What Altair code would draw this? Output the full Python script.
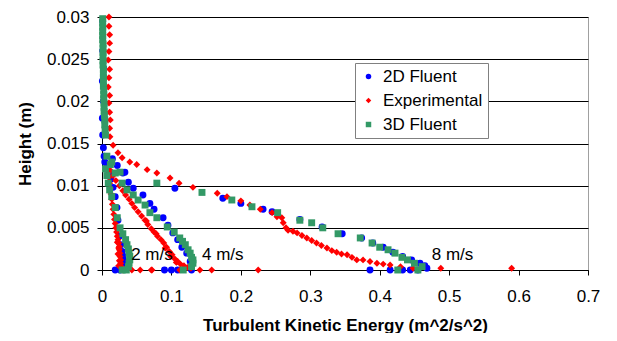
import altair as alt
import pandas as pd

# ---- 2D Fluent (blue circles) ----
fl2d_x = [
    # 2 m/s
    0.019, 0.026, 0.030, 0.031, 0.031, 0.030, 0.029, 0.027, 0.025, 0.023, 0.0216, 0.019, 0.016, 0.013, 0.010, 0.007,
    # 4 m/s
    0.090, 0.100, 0.109, 0.129, 0.127, 0.122, 0.115, 0.109, 0.102, 0.095, 0.088, 0.075, 0.069, 0.059, 0.045, 0.038, 0.030, 0.022, 0.015,
    # 8 m/s
    0.386, 0.415, 0.433, 0.444, 0.455, 0.468, 0.465, 0.458, 0.446, 0.433, 0.419, 0.405, 0.390, 0.374, 0.346, 0.317,
    0.285, 0.245, 0.232, 0.200, 0.174, 0.105, 0.033,
    # upper region
    0.001, 0.0005, 0.001, 0.002, 0.0005, 0.001, 0.002, 0.003, 0.002, 0.004,
]
fl2d_y = [
    0.0, 0.0, 0.0004, 0.0008, 0.0012, 0.0017, 0.0022, 0.0030, 0.0040, 0.0059, 0.0074, 0.0087, 0.0098, 0.0108, 0.0116, 0.0124,
    0.0, 0.0, 0.0, 0.0, 0.0010, 0.0020, 0.0027, 0.0036, 0.0044, 0.0053, 0.0062, 0.0072, 0.0079, 0.0089, 0.0097, 0.0104, 0.0115, 0.0124, 0.0132,
    0.0, 0.0, 0.0, 0.0, 0.0, 0.0002, 0.0005, 0.0008, 0.0012, 0.0016, 0.0021, 0.0027, 0.0032, 0.0038, 0.0043, 0.0051,
    0.0060, 0.0069, 0.0072, 0.0079, 0.0085, 0.0097, 0.0116,
    0.0295, 0.0224, 0.0260, 0.0200, 0.0180, 0.0160, 0.0145, 0.0135, 0.0240, 0.0128,
]

# ---- Experimental (red diamonds) ----
exp_x = [
    # upper column
    0.010, 0.010, 0.011, 0.011, 0.010, 0.009, 0.011, 0.010, 0.009, 0.011, 0.010, 0.011, 0.012, 0.011, 0.0115,
    # 2 m/s
    0.009, 0.010, 0.011, 0.012, 0.013, 0.014, 0.015, 0.016, 0.017, 0.018, 0.019, 0.020, 0.021, 0.022, 0.023, 0.024,
    0.025, 0.025, 0.026, 0.026, 0.027, 0.027, 0.028, 0.030, 0.043, 0.055, 0.071,
    0.022, 0.024, 0.023, 0.025, 0.024,
    # 4 m/s
    0.012, 0.016, 0.020, 0.025, 0.030, 0.034, 0.039, 0.043, 0.047, 0.052, 0.057, 0.062, 0.066, 0.071, 0.075, 0.080,
    0.085, 0.089, 0.093, 0.097, 0.101, 0.105, 0.109, 0.113, 0.118, 0.123, 0.128, 0.072, 0.112, 0.141, 0.158, 0.225,
    0.064, 0.078, 0.091, 0.099, 0.107,
    # 8 m/s
    0.016, 0.023, 0.029, 0.040, 0.050, 0.065, 0.079, 0.098, 0.111, 0.131, 0.166, 0.180, 0.200, 0.213, 0.228, 0.245,
    0.252, 0.259, 0.261, 0.265, 0.268, 0.275, 0.281, 0.288, 0.295, 0.302, 0.309, 0.316, 0.324, 0.331, 0.338, 0.345,
    0.353, 0.360, 0.367, 0.376, 0.386, 0.396, 0.405, 0.415, 0.430, 0.448, 0.488, 0.590,
]
exp_y = [
    0.0300, 0.0289, 0.0279, 0.0269, 0.0259, 0.0249, 0.0238, 0.0228, 0.0217, 0.0207, 0.0198, 0.0187, 0.0178, 0.0168, 0.0158,
    0.0118, 0.0110, 0.0103, 0.0097, 0.0090, 0.0084, 0.0078, 0.0072, 0.0066, 0.0060, 0.0055, 0.0050, 0.0045, 0.0040, 0.0036, 0.0032,
    0.0028, 0.0024, 0.0020, 0.0016, 0.0012, 0.0008, 0.0004, 0.0, 0.0, 0.0, 0.0,
    0.0033, 0.0026, 0.0019, 0.0011, 0.0005,
    0.0118, 0.0112, 0.0106, 0.0100, 0.0094, 0.0089, 0.0084, 0.0079, 0.0074, 0.0069, 0.0064, 0.0059, 0.0054, 0.0049, 0.0045, 0.0040,
    0.0036, 0.0032, 0.0027, 0.0022, 0.0018, 0.0013, 0.0010, 0.0007, 0.0005, 0.0003, 0.0002, 0.0, 0.0, 0.0, 0.0, 0.0,
    0.0058, 0.0043, 0.0026, 0.0016, 0.0009,
    0.0148, 0.0139, 0.0133, 0.0128, 0.0125, 0.0119, 0.0115, 0.0109, 0.0103, 0.0098, 0.0091, 0.0087, 0.0082, 0.0077, 0.0072, 0.0068,
    0.0063, 0.0062, 0.0056, 0.0050, 0.0047, 0.0046, 0.0044, 0.0041, 0.0038, 0.0035, 0.0032, 0.0029, 0.0026, 0.0023, 0.0021, 0.0019,
    0.0018, 0.0015, 0.0012, 0.0012, 0.0010, 0.0008, 0.0007, 0.0006, 0.0004, 0.0002, 0.0002, 0.0002,
]

# ---- 3D Fluent (green squares) ----
fl3d_x = [
    # upper column
    0.001, 0.001, 0.001, 0.001, 0.001, 0.001, 0.0015, 0.0015, 0.0015, 0.0015, 0.0015, 0.0015, 0.002, 0.002, 0.002,
    0.002, 0.002, 0.0025, 0.0025, 0.0025, 0.003, 0.003, 0.003, 0.0035, 0.004, 0.004, 0.0045, 0.005,
    # 2 m/s
    0.029, 0.035, 0.038, 0.039, 0.040, 0.040, 0.039, 0.038, 0.036, 0.034, 0.030, 0.026, 0.022, 0.019, 0.014, 0.011, 0.009, 0.007, 0.005,
    # 4 m/s
    0.117, 0.129, 0.131, 0.131, 0.129, 0.127, 0.124, 0.120, 0.116, 0.112, 0.104, 0.094, 0.079, 0.069, 0.062, 0.052, 0.045, 0.036,
    0.029, 0.019, 0.012, 0.007,
    # 8 m/s
    0.426, 0.455, 0.461, 0.450, 0.440, 0.432, 0.422, 0.412, 0.400, 0.389, 0.372, 0.340, 0.318, 0.302, 0.285, 0.253, 0.216,
    0.187, 0.144, 0.079, 0.026, 0.014,
]
fl3d_y = [
    0.0298, 0.0293, 0.0288, 0.0283, 0.0278, 0.0273, 0.0268, 0.0263, 0.0258, 0.0253, 0.0248, 0.0243, 0.0238, 0.0233, 0.0228,
    0.0223, 0.0218, 0.0213, 0.0208, 0.0203, 0.0198, 0.0193, 0.0188, 0.0183, 0.0178, 0.0172, 0.0166, 0.0160,
    0.0, 0.0, 0.0004, 0.0008, 0.0012, 0.0016, 0.0020, 0.0025, 0.0030, 0.0036, 0.0043, 0.0050, 0.0062, 0.0074, 0.0087, 0.0095, 0.0103, 0.0112, 0.0120,
    0.0, 0.0004, 0.0008, 0.0012, 0.0015, 0.0020, 0.0024, 0.0030, 0.0034, 0.0038, 0.0045, 0.0051, 0.0062, 0.0068, 0.0077, 0.0083, 0.0089, 0.0095,
    0.0103, 0.0115, 0.0125, 0.0135,
    0.0, 0.0, 0.0004, 0.0008, 0.0012, 0.0015, 0.0020, 0.0024, 0.0027, 0.0032, 0.0038, 0.0043, 0.0050, 0.0056, 0.0059, 0.0068, 0.0075,
    0.0083, 0.0092, 0.0103, 0.0116, 0.0128,
]

series_names = ["2D Fluent", "Experimental", "3D Fluent"]
series_colors = ["#0000FF", "#FF0000", "#339966"]
series_shapes = ["circle", "diamond", "square"]

ann_text = ["2 m/s", "4 m/s", "8 m/s"]
ann_x = [0.042, 0.144, 0.475]
ann_y = [0.0018, 0.0018, 0.0018]

x_ticks = [0, 0.1, 0.2, 0.3, 0.4, 0.5, 0.6, 0.7]
y_ticks = [0, 0.005, 0.01, 0.015, 0.02, 0.025, 0.03]

rows = []
for name, xs, ys in zip(series_names, [fl2d_x, exp_x, fl3d_x], [fl2d_y, exp_y, fl3d_y]):
    for xv, yv in zip(xs, ys):
        rows.append({"tke": xv, "h": yv, "series": name})
df = pd.DataFrame(rows)
df["order"] = range(len(df))

ann = pd.DataFrame({"t": ann_text, "x": ann_x, "y": ann_y})

FONT = "Liberation Sans"
W, H = 486, 253

xscale = alt.Scale(domain=[0, 0.7], nice=False, zero=True)
yscale = alt.Scale(domain=[0, 0.03], nice=False, zero=True)

points = alt.Chart(df).mark_point(filled=True, opacity=1, size=48).encode(
    x=alt.X("tke:Q", scale=xscale, axis=alt.Axis(
        values=x_ticks, format="~g", grid=False, title="Turbulent Kinetic Energy (m^2/s^2)",
        titleX=W / 2, titleY=55, titleBaseline="middle", titleAlign="center", labelFlush=False,
    )),
    y=alt.Y("h:Q", scale=yscale, axis=alt.Axis(
        values=y_ticks, format="~g", grid=True, title="Height (m)",
        titleX=-77, titleY=H / 2, titleBaseline="middle", titleAlign="center", titleAngle=270,
        labelFlush=False,
    )),
    color=alt.Color("series:N", scale=alt.Scale(domain=series_names, range=series_colors),
                    legend=alt.Legend(title=None, orient="none", legendX=253, legendY=46,
                                      fillColor="white", strokeColor="#808080", padding=5,
                                      labelFont=FONT, labelFontSize=17, labelColor="black",
                                      symbolSize=30, rowPadding=6, labelOffset=6)),
    shape=alt.Shape("series:N", scale=alt.Scale(domain=series_names, range=series_shapes)),
    order=alt.Order("order:Q"),
)

labels = alt.Chart(ann).mark_text(font=FONT, fontSize=17, align="left", baseline="middle", color="black").encode(
    x=alt.X("x:Q", scale=xscale),
    y=alt.Y("y:Q", scale=yscale),
    text="t:N",
)

chart = alt.layer(points, labels).properties(
    width=W, height=H,
    autosize=alt.AutoSizeParams(type="none"),
    padding={"left": 94, "top": 9, "right": 21, "bottom": 63},
).configure_view(stroke="#a0a0a0", strokeWidth=1).configure_axis(
    labelFont=FONT, labelFontSize=17, labelColor="black",
    titleFont=FONT, titleFontSize=17, titleFontWeight="bold", titleColor="black",
    domainColor="black", tickColor="black", tickSize=5, gridColor="black", gridOpacity=1,
).configure_axisX(labelPadding=13).configure_axisY(labelPadding=8)

chart.save("out.html", embed_options={"renderer": "svg", "actions": False})
